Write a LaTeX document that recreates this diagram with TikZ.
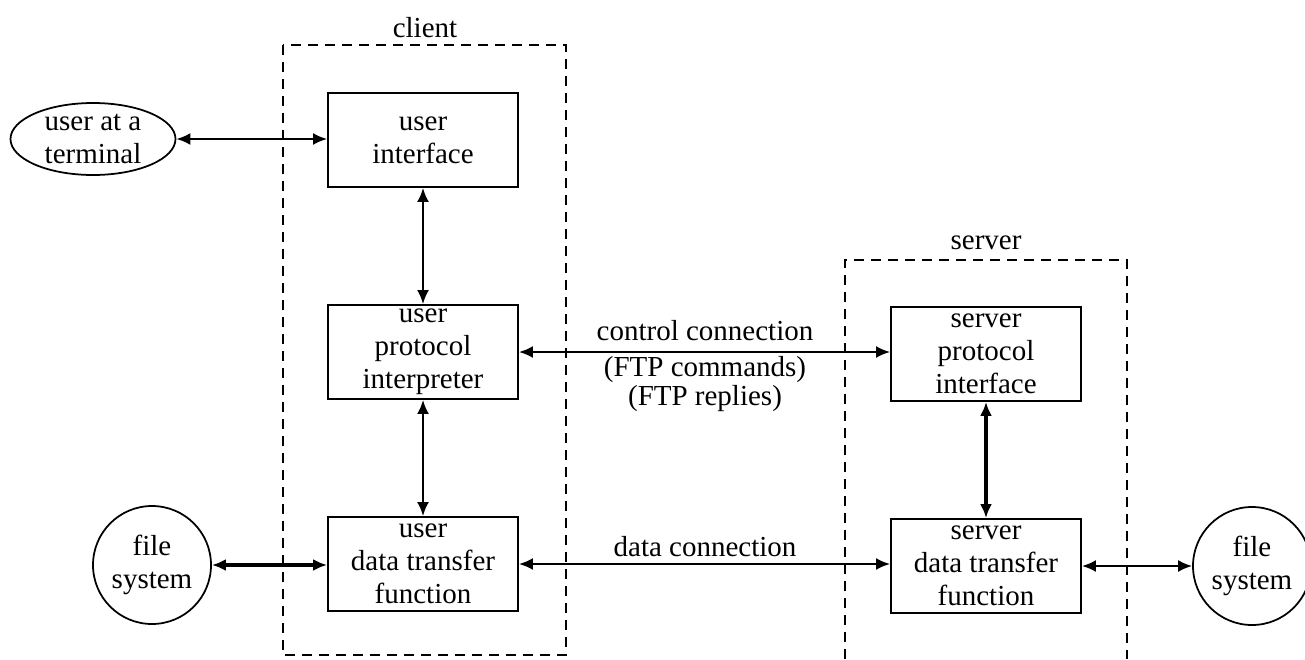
\documentclass[tikz,border=0pt]{standalone}
\usepackage{fontspec}
\setmainfont{Liberation Serif}
\usetikzlibrary{arrows.meta,shapes.geometric,positioning}
\tikzset{
  txt/.style   = {font=\fontsize{16.5}{18.8}\selectfont, align=center},
  block/.style = {txt, draw, line width=1.1pt, fill=white, inner sep=0pt,
                  minimum width=38mm, minimum height=18.8mm},
  term/.style  = {txt, draw, ellipse, line width=1pt, inner sep=0pt,
                  minimum width=33mm, minimum height=14.4mm},
  disk/.style  = {txt, draw, circle, line width=1pt, inner sep=0pt,
                  minimum size=23.6mm},
  link/.style  = {{Latex[length=2.8mm,width=2.4mm]}-{Latex[length=2.8mm,width=2.4mm]},
                  line width=1.2pt},
  fatlink/.style = {link, line width=2pt},
  group/.style = {dashed, line width=1.2pt, dash pattern=on 2mm off 1.4mm},
}

\begin{document}
\begin{tikzpicture}[x=0.2mm,y=-0.2mm]
  \useasboundingbox[fill=white] (0,0) rectangle (1305,659);

  % client side
  \draw[group] (283,45) rectangle (566,655);
  \node[txt] (client) at (425,28) {client};
  \node[term] (usr) at (93,139) {user at a\\terminal};
  \node[block] (ui) at (423,140) {user\\interface};
  \node[block] (upi) at (423,352) {user\\protocol\\interpreter};
  \node[block] (udtf) at (423,564) {user\\data transfer\\function};
  \node[disk] (fsl) at (152,565) {file\\system};

  % server side
  \draw[group] (845,659) |- (1127,260) -- (1127,659);
  \node[txt] (server) at (986,243) {server};
  \node[block] (spi) at (986,354) {server\\protocol\\interface};
  \node[block] (sdtf) at (986,566) {server\\data transfer\\function};
  \node[disk] (fsr) at (1252,566) {file\\system};

  % connections
  \draw[link] (usr.east) -- (ui.west |- usr.east);
  \draw[link] (ui) -- (upi);
  \draw[link] (upi) -- (udtf);
  \draw[fatlink] (fsl) -- (udtf.west |- fsl);
  \draw[link] (upi.east) -- (spi.west |- upi.east);
  \draw[link] (udtf.east) -- (sdtf.west |- udtf.east);
  \draw[fatlink] (spi) -- (sdtf);
  \draw[link] (sdtf) -- (fsr);

  \node[txt] (ctl) at (705,331) {control connection};
  \node[txt, inner sep=0pt, font=\fontsize{16.5}{14.8}\selectfont] (ftp) at (705,384)
    {(FTP commands)\\(FTP replies)};
  \node[txt] (dat) at (705,547) {data connection};
\end{tikzpicture}
\end{document}
